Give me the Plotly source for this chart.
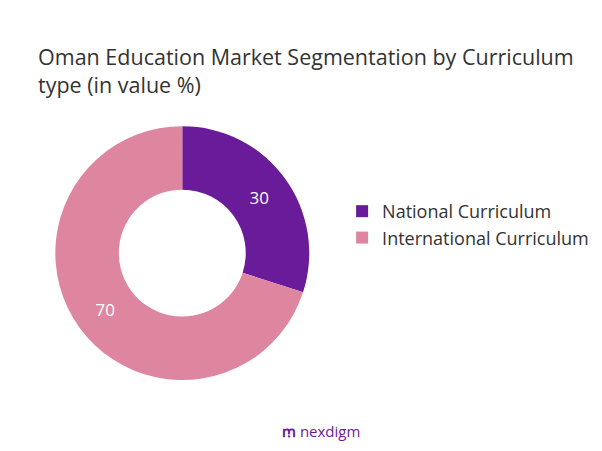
import plotly.graph_objects as go

labels = ["National Curriculum", "International Curriculum"]
values = [30, 70]
colors = ["#6A1B9A", "#DE869F"]

fig = go.Figure(go.Pie(
    labels=labels, values=values, hole=0.5, sort=False, direction="clockwise",
    marker=dict(colors=colors), textinfo="value", textposition="inside",
    insidetextfont=dict(color="white", size=17, family="Open Sans"),
    domain=dict(x=[0.078, 0.501], y=[0.175, 0.738]),
))
fig.update_layout(
    width=602, height=451, paper_bgcolor="white", plot_bgcolor="white",
    margin=dict(l=0, r=0, t=0, b=0),
    font=dict(family="Open Sans", color="#333333"),
    annotations=[
        dict(text="Oman Education Market Segmentation by Curriculum<br>type (in value %)",
             x=0.047, y=0.93, xref="paper", yref="paper", xanchor="left", yanchor="top",
             align="left", showarrow=False, font=dict(size=21.5, color="#333333")),
        dict(text="<b>ꭑ</b> nexdigm", x=0.52, y=0.035, xref="paper", yref="paper",
             showarrow=False, font=dict(size=15, color="#6A1B9A")),
    ],
    legend=dict(x=0.555, y=0.52, xanchor="left", yanchor="middle",
                font=dict(size=18, color="#333333"), itemwidth=30),
)
fig.write_html("out.html")
